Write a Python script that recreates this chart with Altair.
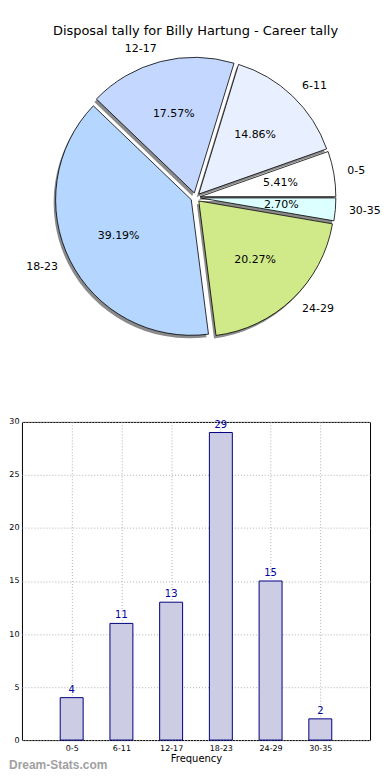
import math
import altair as alt
import pandas as pd

# ---- data ----
categories = ["0-5", "6-11", "12-17", "18-23", "24-29", "30-35"]
tally = [4, 11, 13, 29, 15, 2]
pie_colors = ["#ffffff", "#e8f0ff", "#c4d8ff", "#b4d6ff", "#d0ea8a", "#dcffff"]
title_text = ["Disposal tally for Billy Hartung - Career tally"]
x_title = "Frequency"
watermark = ["Dream-Stats.com"]
y_ticks = [0, 5, 10, 15, 20, 25, 30]

df = pd.DataFrame({"cat": categories, "value": tally, "idx": list(range(len(categories)))})

FONT = "DejaVu Sans"
LEFT = 13  # y-axis extent of the bar chart

# ---- pie geometry (pixels) ----
R = 136
EXPLODE = 0.035
PIE_W = 374 - LEFT
PIE_H = 372
CX = 195 - 8 - LEFT
CY = 189
xdom = [-CX / R, (PIE_W - CX) / R]
ydom = [-(PIE_H - CY) / R, CY / R]

base = (
    alt.Chart(df)
    .transform_joinaggregate(total="sum(value)")
    .transform_window(cum="sum(value)", sort=[alt.SortField("idx", order="descending")], frame=[None, 0])
    .transform_calculate(
        f0="(datum.cum - datum.value) / datum.total",
        f1="datum.cum / datum.total",
        ang="PI / 2 + 2 * PI * ((datum.cum - datum.value / 2) / datum.total)",
        ex=f"{EXPLODE} * sin(datum.ang)",
        ey=f"{EXPLODE} * cos(datum.ang)",
        pct="format(100 * datum.value / datum.total, '.2f') + '%'",
        lx="datum.ex + 1.1 * sin(datum.ang)",
        ly="datum.ey + 1.1 * cos(datum.ang)",
        px="datum.ex + 0.6 * sin(datum.ang)",
        py="datum.ey + 0.6 * cos(datum.ang)",
    )
)

xs = alt.Scale(domain=xdom, nice=False, zero=False)
ys = alt.Scale(domain=ydom, nice=False, zero=False)
theta = alt.Theta("f0:Q", scale=alt.Scale(domain=[0, 1], range=[math.pi / 2, math.pi / 2 + 2 * math.pi]))
theta2 = alt.Theta2("f1:Q")

shadow = base.mark_arc(outerRadius=R, fill="#8a8a8a", xOffset=-2, yOffset=3).encode(
    x=alt.X("ex:Q", scale=xs, axis=None),
    y=alt.Y("ey:Q", scale=ys, axis=None),
    theta=theta,
    theta2=theta2,
)
slices = base.mark_arc(outerRadius=R, stroke="black", strokeWidth=0.8).encode(
    x=alt.X("ex:Q", scale=xs, axis=None),
    y=alt.Y("ey:Q", scale=ys, axis=None),
    theta=theta,
    theta2=theta2,
    color=alt.Color("cat:N", scale=alt.Scale(domain=categories, range=pie_colors), legend=None),
)
lab_right = base.transform_filter("sin(datum.ang) >= 0").mark_text(
    align="left", baseline="middle", font=FONT, fontSize=11, color="black"
).encode(x=alt.X("lx:Q", scale=xs, axis=None), y=alt.Y("ly:Q", scale=ys, axis=None), text="cat:N")
lab_left = base.transform_filter("sin(datum.ang) < 0").mark_text(
    align="right", baseline="middle", font=FONT, fontSize=11, color="black"
).encode(x=alt.X("lx:Q", scale=xs, axis=None), y=alt.Y("ly:Q", scale=ys, axis=None), text="cat:N")
pct = base.mark_text(align="center", baseline="middle", font=FONT, fontSize=11, color="black").encode(
    x=alt.X("px:Q", scale=xs, axis=None), y=alt.Y("py:Q", scale=ys, axis=None), text="pct:N"
)
title = alt.Chart(pd.DataFrame({"t": title_text})).mark_text(
    align="center", baseline="middle", font=FONT, fontSize=13, color="black"
).encode(x=alt.value(195 - 8 - LEFT), y=alt.value(22), text="t:N")

pie = alt.layer(shadow, slices, pct, lab_right, lab_left, title).properties(
    width=PIE_W, height=PIE_H, view=alt.ViewBackground(stroke=None)
)

# ---- bar chart ----
BW = 370 - 8 - LEFT
BH = 319
xb = alt.X(
    "cat:N",
    sort=categories,
    scale=alt.Scale(type="point", padding=1),
    axis=alt.Axis(
        title=x_title, labelAngle=0, grid=True, gridDash=[1, 2], gridColor="#b0b0b0",
        ticks=False, tickSize=0, domain=False, labelFontSize=8, labelFont=FONT, labelColor="black",
        labelPadding=4, titleFont=FONT, titleFontSize=10, titleFontWeight="normal",
        titleColor="black", titlePadding=1,
    ),
)
yb = alt.Y(
    "value:Q",
    scale=alt.Scale(domain=[0, 30], nice=False),
    axis=alt.Axis(
        title=None, values=y_ticks, grid=True, gridDash=[1, 2], gridColor="#b0b0b0",
        ticks=False, tickSize=0, domain=False, labelFontSize=8, labelFont=FONT, labelColor="black",
        labelPadding=3, minExtent=LEFT, maxExtent=LEFT,
    ),
)
bars = alt.Chart(df).mark_bar(size=23, fill="#ccccE4", stroke="#000080", strokeWidth=1).encode(x=xb, y=yb)
vals = alt.Chart(df).mark_text(baseline="bottom", dy=-3, font=FONT, fontSize=10, color="#0000a0").encode(
    x=xb, y=yb, text="value:Q"
)
wm = alt.Chart(pd.DataFrame({"t": watermark})).mark_text(
    align="left", baseline="alphabetic", font="Liberation Sans", fontSize=12, fontWeight="bold",
    color="#a0a0a0"
).encode(x=alt.value(-LEFT), y=alt.value(BH + 29), text="t:N")

barchart = alt.layer(bars, vals, wm).properties(
    width=BW, height=BH, view=alt.ViewBackground(stroke="black", strokeWidth=1)
)

chart = alt.vconcat(pie, barchart, spacing=37).properties(padding=0).configure_view(stroke=None)

chart.save("out.html", embed_options={"renderer": "svg", "actions": False})
